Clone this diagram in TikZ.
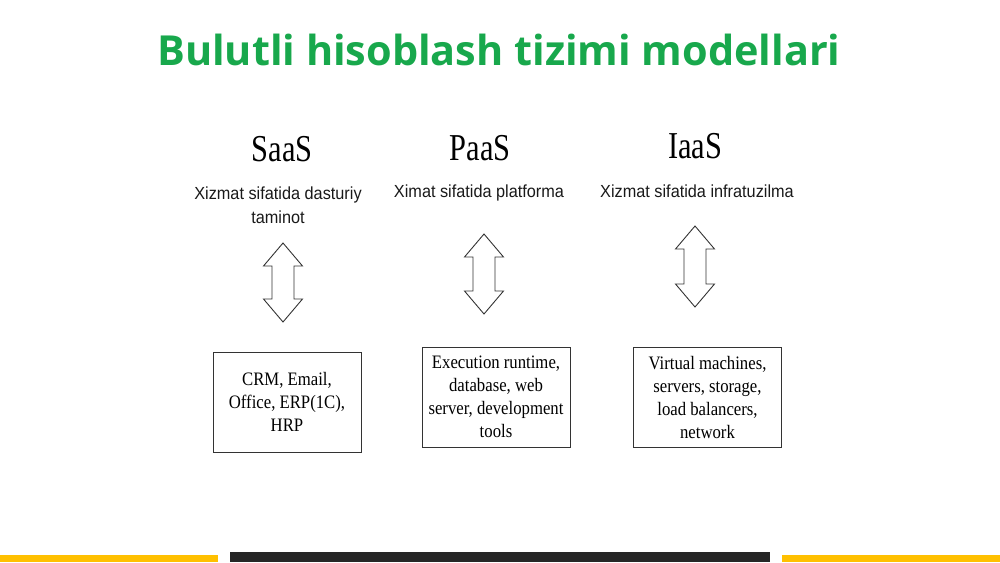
\documentclass[tikz,border=0pt]{standalone}
\usepackage{fontspec}
\setmainfont{Liberation Serif}
\setsansfont{Liberation Sans}
\newfontfamily\headfont{Open Sans}
\definecolor{titlegreen}{RGB}{24,168,76}
\definecolor{baryellow}{RGB}{255,192,0}
\definecolor{bardark}{RGB}{38,38,38}

\begin{document}
\begin{tikzpicture}[x=1pt,y=-1pt]
	\tikzstyle{heading}=[font=\headfont\bfseries\fontsize{41.4}{50}\selectfont,text=titlegreen,inner sep=0pt]
	\tikzstyle{model}=[font=\fontsize{38}{40}\selectfont,xscale=0.8,inner sep=0pt]
	\tikzstyle{caption}=[font=\sffamily\fontsize{17.5}{24}\selectfont,align=center,xscale=0.93,inner sep=0pt,text=black!90]
	\tikzstyle{box}=[rectangle,draw=black!80,line width=0.8pt,align=center,font=\fontsize{19}{23}\selectfont,xscale=0.88,minimum width=168pt,minimum height=100pt,inner sep=0pt]
	\tikzstyle{updown}=[draw=black!80,line width=0.9pt,line join=miter]
	\useasboundingbox (0,0) rectangle (1000,562);
	\node (title) at (499,50) [heading] {Bulutli hisoblash tizimi modellari};
	\node (saas)  at (282,149) [model] {SaaS};
	\node (paas)  at (480,148) [model] {PaaS};
	\node (iaas)  at (695,146) [model] {IaaS};
	\node (saascap) at (278,205) [caption] {Xizmat sifatida dasturiy\\taminot};
	\node (paascap) at (479,197) [caption,anchor=base] {Ximat sifatida platforma};
	\node (iaascap) at (697,197) [caption,anchor=base] {Xizmat sifatida infratuzilma};
	\node (saasbox) at (287,402) [box] {CRM, Email,\\Office, ERP(1C),\\HRP};
	\node (paasbox) at (496,397) [box] {Execution runtime,\\database, web\\server, development\\tools};
	\node (iaasbox) at (707.5,397) [box] {Virtual machines,\\servers, storage,\\load balancers,\\network};
	% double arrows between captions and boxes
	\foreach \x/\t/\b in {283/243/322,484/234/314,695/226/307}
		\draw [updown] (\x,\t) -- ++(19.5,23) -- ++(-8.5,0) -- (\x+11,\b-23) -- ++(8.5,0)
			-- (\x,\b) -- ++(-19.5,-23) -- ++(8.5,0) -- (\x-11,\t+23) -- ++(-8.5,0) -- cycle;
	% bottom bars
	\fill [baryellow] (0,555) rectangle (218,562);
	\fill [bardark] (230,552) rectangle (770,562);
	\fill [baryellow] (782,555) rectangle (1000,562);
\end{tikzpicture}
\end{document}
